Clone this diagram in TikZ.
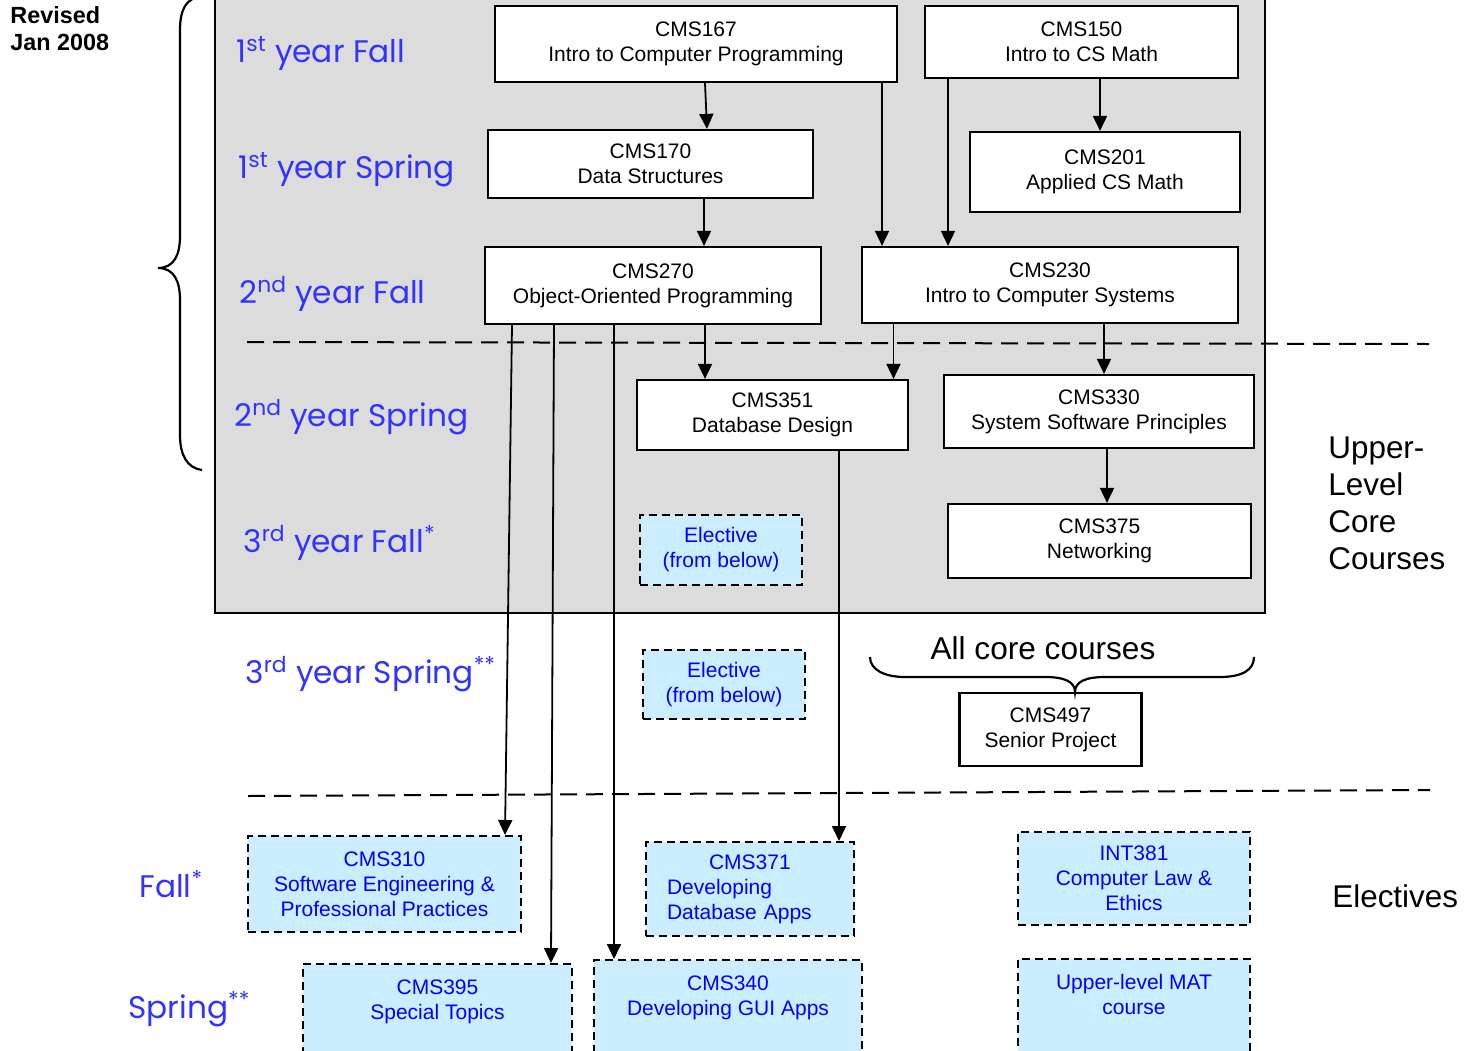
\documentclass[tikz,border=0pt]{standalone}
\usepackage{fontspec}
\setmainfont{Liberation Sans}
\newfontfamily\labfont{Poppins}
\usetikzlibrary{arrows.meta}
\definecolor{panelgray}{RGB}{220,220,220}
\definecolor{elecfill}{RGB}{204,236,255}
\definecolor{labblue}{RGB}{51,51,255}
\definecolor{elecblue}{RGB}{0,0,255}
\begin{document}
\begin{tikzpicture}[x=0.5pt,y=-0.5pt,
 core/.style={draw, fill=white, line width=1.1pt, align=center, inner sep=0pt, font=\fontsize{10.5}{12.5}\selectfont},
 elec/.style={draw, fill=elecfill, line width=1pt, dash pattern=on 4pt off 2.5pt, align=center, inner sep=0pt, text=elecblue, font=\fontsize{10.5}{12.5}\selectfont},
 etext/.style={align=center, inner sep=0pt, text=elecblue, font=\fontsize{10.5}{12.5}\selectfont},
 sem/.style={anchor=base west, inner sep=0pt, text=labblue, font=\labfont\fontsize{15.6}{18}\selectfont},
 arr/.style={line width=0.9pt, -{Triangle[length=7.5pt,width=7pt]}},
 divider/.style={line width=1pt, dash pattern=on 8.5pt off 4.5pt},
 side/.style={anchor=base west, inner sep=0pt, font=\fontsize{15.7}{18.5}\selectfont}
]
\path[use as bounding box] (0,0) rectangle (1473,1050);
\clip (0,0) rectangle (1473,1050);
\fill[white] (0,0) rectangle (1473,1050);
% panel
\draw[line width=1.1pt, fill=panelgray] (215,-10) rectangle (1265,613);
% left brace
\draw[line width=1.1pt] (202,470) .. controls (187,468) and (180,455) .. (180,435) -- (180,300) .. controls (180,281) and (174,268) .. (158,268) .. controls (174,268) and (180,255) .. (180,236) -- (180,30) .. controls (180,8) and (187,-2) .. (202,-4);
% dividers
\draw[divider] (247,342) -- (1429,344);
\draw[divider] (248,796) -- (1430,790);
% core courses
\node[core, minimum width=201pt, minimum height=38pt] (c167) at (696,44) {CMS167\\Intro to Computer Programming};
\node[core, minimum width=156.5pt, minimum height=36pt] (c150) at (1081.5,42) {CMS150\\Intro to CS Math};
\node[core, minimum width=162.5pt, minimum height=34pt] (c170) at (650.5,164) {CMS170\\Data Structures};
\node[core, minimum width=135pt, minimum height=40pt] (c201) at (1105,172) {CMS201\\Applied CS Math};
\node[core, minimum width=168pt, minimum height=38.5pt] (c270) at (653,285.5) {CMS270\\Object-Oriented Programming};
\node[core, minimum width=188pt, minimum height=38pt] (c230) at (1050,285) {CMS230\\Intro to Computer Systems};
\node[core, minimum width=135.5pt, minimum height=35pt] (c351) at (772.5,415) {CMS351\\Database Design};
\node[core, minimum width=155pt, minimum height=36.5pt] (c330) at (1099,411.5) {CMS330\\System Software Principles};
\node[core, minimum width=151.5pt, minimum height=37pt] (c375) at (1099.5,541) {CMS375\\Networking};
\node[core, minimum width=91pt, minimum height=36.5pt] (c497) at (1050.5,729.5) {CMS497\\Senior Project};
% electives
\node[elec, minimum width=81pt, minimum height=35pt] (el1) at (721,550) {Elective\\(from below)};
\node[elec, minimum width=81pt, minimum height=34.5pt] (el2) at (724,684.5) {Elective\\(from below)};
\node[elec, minimum width=136.5pt, minimum height=48pt] (c310) at (384.5,884) {CMS310\\Software Engineering \&\\Professional Practices};
\node[elec, minimum width=104pt, minimum height=47pt, align=left, text width=83pt, inner xsep=10.5pt] (c371) at (750,889) {\hspace*{21pt}CMS371\\Developing\\Database Apps};
\node[elec, minimum width=116pt, minimum height=46.5pt] (i381) at (1134,878.5) {INT381\\Computer Law \&\\Ethics};
\node[elec, anchor=north, minimum width=134.5pt, minimum height=60pt] (c395) at (437.5,963) {};
\node[etext, anchor=north] (t395) at ([shift={(0,16)}]c395.north) {CMS395\\Special Topics};
\node[elec, anchor=north, minimum width=134pt, minimum height=60pt] (c340) at (728,959) {};
\node[etext, anchor=north] (t340) at ([shift={(0,16)}]c340.north) {CMS340\\Developing GUI Apps};
\node[elec, anchor=north, minimum width=116pt, minimum height=60pt] (mat) at (1134,958) {};
\node[etext, anchor=north] (tmat) at ([shift={(0,16)}]mat.north) {Upper-level MAT\\course};
% semester labels
\node[sem] (s1) at (236,62) {1\textsuperscript{st} year Fall};
\node[sem] (s2) at (238,178) {1\textsuperscript{st} year Spring};
\node[sem] (s3) at (239,303) {2\textsuperscript{nd} year Fall};
\node[sem] (s4) at (234,426) {2\textsuperscript{nd} year Spring};
\node[sem] (s5) at (243,552) {3\textsuperscript{rd} year Fall\textsuperscript{*}};
\node[sem] (s6) at (245,683) {3\textsuperscript{rd} year Spring\textsuperscript{**}};
\node[sem] (s7) at (139,897) {Fall\textsuperscript{*}};
\node[sem] (s8) at (128,1018) {Spring\textsuperscript{**}};
% side texts
\node[anchor=base west, inner sep=0pt, font=\bfseries\fontsize{11.7}{13.5}\selectfont] (rev) at (10,23) {\begin{tabular}[t]{@{}l@{}}Revised\\Jan 2008\end{tabular}};
\node[side] (ulcc) at (1328,458) {\begin{tabular}[t]{@{}l@{}}Upper-\\Level\\Core\\Courses\end{tabular}};
\node[side] (elv) at (1332,907) {Electives};
\node[anchor=base, inner sep=0pt, font=\fontsize{15.8}{18}\selectfont] (acc) at (1043,659) {All core courses};
% brace over senior project
\draw[line width=1.1pt] (870,657) .. controls (870,670) and (885,677) .. (905,677) -- (1045,677) .. controls (1065,677) and (1075,682) .. (1075,692) .. controls (1075,682) and (1085,677) .. (1105,677) -- (1220,677) .. controls (1242,677) and (1254,670) .. (1254,657);
% arrows
\draw[arr] ([shift={(9,0)}]c167.south) -- ([shift={(56.5,0)}]c170.north);
\draw[arr] ([shift={(53.5,0)}]c170.south) -- ([shift={(51,0)}]c270.north);
\draw[arr] ([shift={(186,0)}]c167.south) -- ([shift={(-168,0)}]c230.north);
\draw[arr] ([shift={(-133.5,0)}]c150.south) -- ([shift={(-102,0)}]c230.north);
\draw[arr] ([shift={(18.5,0)}]c150.south) -- ([shift={(-5,0)}]c201.north);
\draw[arr] ([shift={(52,0)}]c270.south) -- ([shift={(-67.5,0)}]c351.north);
\draw[arr] ([shift={(-156.5,0)}]c230.south) -- ([shift={(121,0)}]c351.north);
\draw[arr] ([shift={(54,0)}]c230.south) -- ([shift={(5,0)}]c330.north);
\draw[arr] ([shift={(8,0)}]c330.south) -- ([shift={(7.5,0)}]c375.north);
\draw[arr] ([shift={(-141,0)}]c270.south) -- ([shift={(120.5,0)}]c310.north);
\draw[arr] ([shift={(-99,0)}]c270.south) -- ([shift={(113.5,0)}]c395.north);
\draw[arr] ([shift={(-39,0)}]c270.south) -- ([shift={(-114,0)}]c340.north);
\draw[arr] ([shift={(66.5,0)}]c351.south) -- ([shift={(89,0)}]c371.north);
\end{tikzpicture}
\end{document}
